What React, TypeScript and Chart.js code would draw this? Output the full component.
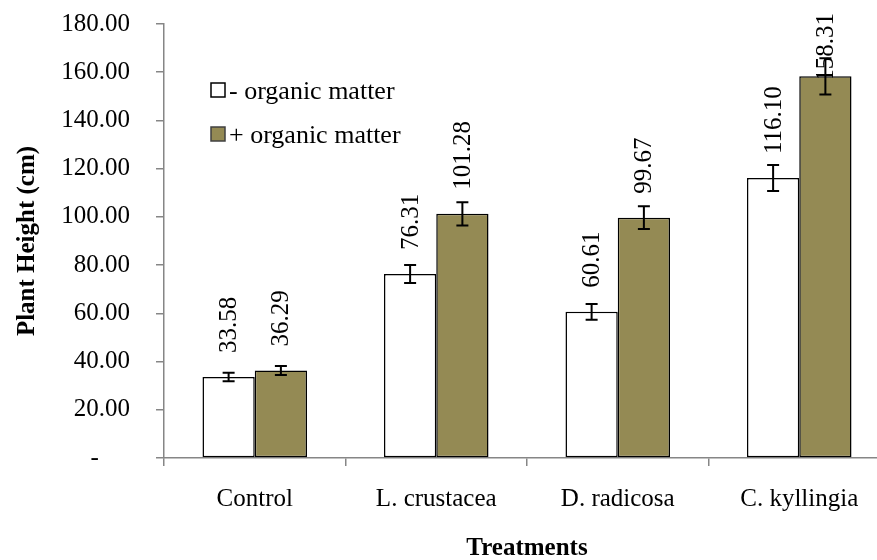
import React, { useEffect, useRef } from "react";
import { Chart, registerables } from "chart.js";

Chart.register(...registerables);

const categories = ["Control", "L. crustacea", "D. radicosa", "C. kyllingia"];
const seriesNames = ["- organic matter", "+ organic matter"];
const withoutOM = [33.58, 76.31, 60.61, 116.1];
const withOM = [36.29, 101.28, 99.67, 158.31];
const withoutOMErr = [1.8, 3.7, 3.3, 5.4];
const withOMErr = [1.9, 4.8, 4.7, 7.5];
const seriesColors = ["#FFFFFF", "#948A54"];
const yTicks = [0, 20, 40, 60, 80, 100, 120, 140, 160, 180];

const FONT = '"Liberation Serif", "Times New Roman", serif';

const labelPlugin = {
  id: "valueLabels",
  beforeDatasetsDraw(chart: any) {
    const ctx = chart.ctx;
    const yScale = chart.scales.y;
    const vals = [withoutOM, withOM];
    ctx.save();
    ctx.fillStyle = "#000";
    ctx.font = `25px ${FONT}`;
    ctx.textAlign = "left";
    ctx.textBaseline = "middle";
    chart.data.datasets.forEach((ds: any, di: number) => {
      const meta = chart.getDatasetMeta(di);
      meta.data.forEach((el: any, i: number) => {
        const v = vals[di][i];
        const txt = v.toFixed(2);
        const w = ctx.measureText(txt).width;
        const y = Math.max(yScale.getPixelForValue(v) - 24, 13 + w);
        ctx.save();
        ctx.translate(el.x, y);
        ctx.rotate(-Math.PI / 2);
        ctx.fillText(txt, 0, 1);
        ctx.restore();
      });
    });
    ctx.restore();
  },
};

const overlayPlugin = {
  id: "overlay",
  afterDatasetsDraw(chart: any) {
    const ctx = chart.ctx;
    const yScale = chart.scales.y;
    const errs = [withoutOMErr, withOMErr];
    const vals = [withoutOM, withOM];
    ctx.save();
    chart.data.datasets.forEach((ds: any, di: number) => {
      const meta = chart.getDatasetMeta(di);
      meta.data.forEach((el: any, i: number) => {
        const v = vals[di][i];
        const e = errs[di][i];
        const yTop = yScale.getPixelForValue(v + e);
        const yBot = yScale.getPixelForValue(v - e);
        ctx.strokeStyle = "#000";
        ctx.lineWidth = 2;
        ctx.beginPath();
        ctx.moveTo(el.x, yTop);
        ctx.lineTo(el.x, yBot);
        ctx.moveTo(el.x - 6, yTop);
        ctx.lineTo(el.x + 6, yTop);
        ctx.moveTo(el.x - 6, yBot);
        ctx.lineTo(el.x + 6, yBot);
        ctx.stroke();
      });
    });
    const rows = [90, 134];
    seriesNames.forEach((name, i) => {
      const cy = rows[i];
      ctx.fillStyle = seriesColors[i];
      ctx.fillRect(211, cy - 7, 14, 14);
      ctx.strokeStyle = i === 0 ? "#000" : "#404040";
      ctx.lineWidth = 1.5;
      ctx.strokeRect(211, cy - 7, 14, 14);
      ctx.fillStyle = "#000";
      ctx.font = `26px ${FONT}`;
      ctx.textAlign = "left";
      ctx.textBaseline = "middle";
      ctx.fillText(name, 229, cy + 2);
    });
    ctx.restore();
  },
};

export default function App() {
  const ref = useRef<HTMLCanvasElement | null>(null);
  useEffect(() => {
    if (!ref.current) return;
    const chart = new Chart(ref.current, {
      type: "bar",
      data: {
        labels: categories,
        datasets: [
          {
            label: seriesNames[0],
            data: withoutOM,
            backgroundColor: seriesColors[0],
            borderColor: "#000",
            borderWidth: 1.5,
            borderSkipped: false,
            categoryPercentage: 0.576,
            barPercentage: 1,
          },
          {
            label: seriesNames[1],
            data: withOM,
            backgroundColor: seriesColors[1],
            borderColor: "#000",
            borderWidth: 1.5,
            borderSkipped: false,
            categoryPercentage: 0.576,
            barPercentage: 1,
          },
        ],
      },
      options: {
        responsive: false,
        animation: false,
        devicePixelRatio: 1,
        layout: { padding: { top: 24, right: 30, left: 0, bottom: 0 } },
        plugins: { legend: { display: false }, tooltip: { enabled: false } },
        scales: {
          x: {
            grid: {
              display: true,
              drawOnChartArea: false,
              drawTicks: true,
              tickLength: 8,
              color: "#868686",
              lineWidth: 1.5,
              offset: true,
            },
            border: { display: true, color: "#868686", width: 1.5 },
            ticks: {
              color: "#000",
              font: { family: FONT, size: 25 },
              padding: 18,
              maxRotation: 0,
            },
            title: {
              display: true,
              text: "Treatments",
              color: "#000",
              font: { family: FONT, size: 25, weight: "bold", lineHeight: 0.88 },
              padding: { top: 0, bottom: 0 },
            },
            afterFit: (scale: any) => {
              scale.height = 102;
            },
          },
          y: {
            min: 0,
            max: 180,
            afterBuildTicks: (scale: any) => {
              scale.ticks = yTicks.map((v) => ({ value: v }));
            },
            grid: {
              display: true,
              drawOnChartArea: false,
              drawTicks: true,
              tickLength: 8,
              color: "#868686",
              lineWidth: 1.5,
            },
            border: { display: true, color: "#868686", width: 1.5 },
            ticks: {
              color: "#000",
              font: { family: FONT, size: 25 },
              padding: 26,
              callback: (v: any) => (Number(v) === 0 ? "-     " : Number(v).toFixed(2)),
            },
            title: {
              display: true,
              text: "Plant Height (cm)",
              color: "#000",
              font: { family: FONT, size: 25, weight: "bold", lineHeight: 1 },
              padding: { top: 15, bottom: 0 },
            },
            afterFit: (scale: any) => {
              scale.width = 164;
              scale.paddingTop = 0;
              scale.paddingBottom = 0;
            },
          },
        },
      },
      plugins: [labelPlugin, overlayPlugin],
    });
    return () => chart.destroy();
  }, []);
  return (
    <div
      style={{
        position: "absolute",
        left: 0,
        top: 0,
        width: 877,
        height: 560,
        overflow: "hidden",
        background: "#fff",
      }}
    >
      <canvas ref={ref} width={920} height={560} style={{ display: "block" }} />
    </div>
  );
}
